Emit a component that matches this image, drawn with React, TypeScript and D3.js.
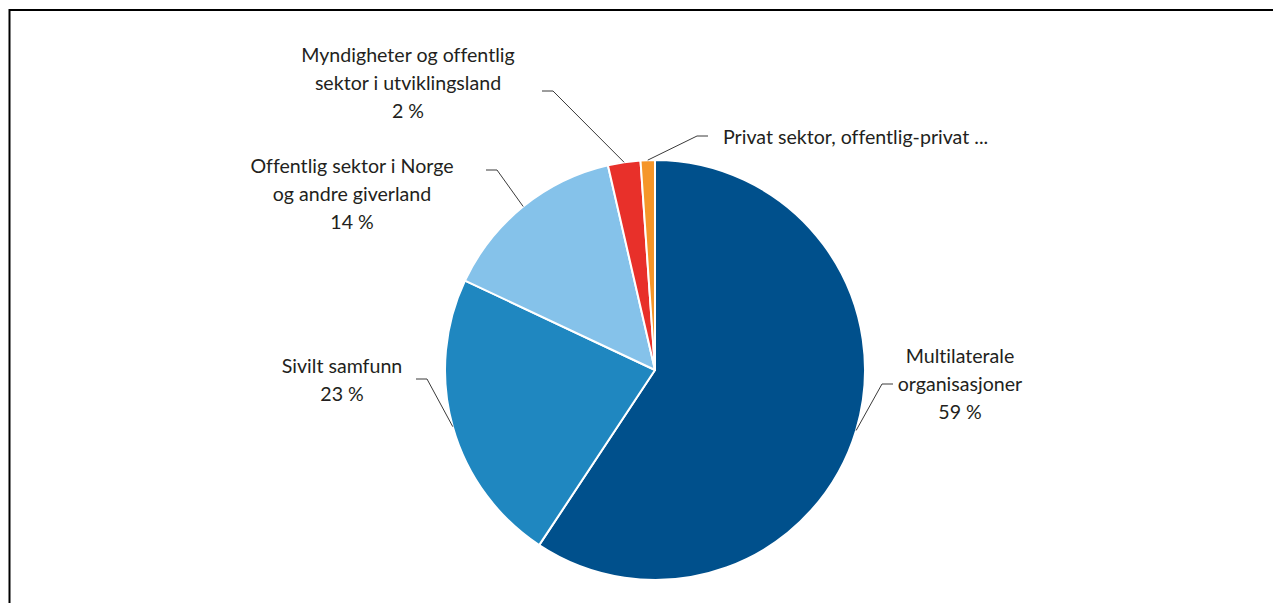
import React from "react";
import * as d3 from "d3";

const categories = [
  "Multilaterale organisasjoner",
  "Sivilt samfunn",
  "Offentlig sektor i Norge og andre giverland",
  "Myndigheter og offentlig sektor i utviklingsland",
  "Privat sektor, offentlig-privat ...",
];
const values = [59.3, 22.7, 14.4, 2.5, 1.1];
const labelLines: string[][] = [
  ["Multilaterale", "organisasjoner", "59 %"],
  ["Sivilt samfunn", "23 %"],
  ["Offentlig sektor i Norge", "og andre giverland", "14 %"],
  ["Myndigheter og offentlig", "sektor i utviklingsland", "2 %"],
  ["Privat sektor, offentlig-privat ..."],
];
const colors = ["#00508c", "#1f87c0", "#85c2ea", "#e8302a", "#f5962a"];

// label layout: elbow point, horizontal tail direction, text anchor
const layout = [
  { ex: 882, ey: 384, dir: 1, tx: 960, ty: 355, anchor: "middle" },
  { ex: 427, ey: 379, dir: -1, tx: 342, ty: 365, anchor: "middle" },
  { ex: 497, ey: 170, dir: -1, tx: 352, ty: 165, anchor: "middle" },
  { ex: 553, ey: 91, dir: -1, tx: 408, ty: 54, anchor: "middle" },
  { ex: 697, ey: 136, dir: 1, tx: 723, ty: 136, anchor: "start" },
];

const W = 1273;
const H = 603;
const cx = 655;
const cy = 370;
const R = 210;
const lineH = 28;

export default function App() {
  const data = categories.map((c, i) => ({ c, v: values[i], i }));
  const pie = d3
    .pie<{ c: string; v: number; i: number }>()
    .sort(null)
    .value((d) => d.v)
    .startAngle(0)
    .endAngle(2 * Math.PI);
  const arcs = pie(data);
  const arc = d3.arc<d3.PieArcDatum<any>>().innerRadius(0).outerRadius(R);

  return (
    <svg
      width={W}
      height={H}
      style={{
        position: "absolute",
        left: 0,
        top: 0,
        background: "#fff",
        fontVariantLigatures: "none",
      }}
      fontFamily="Lato, 'Open Sans', sans-serif"
    >
      <rect x={0} y={0} width={W} height={H} fill="#fff" />
      <line x1={9.5} y1={10} x2={W} y2={10} stroke="#000" strokeWidth={2} />
      <line x1={9.5} y1={9} x2={9.5} y2={H} stroke="#000" strokeWidth={2} />
      <g transform={`translate(${cx},${cy})`}>
        {arcs.map((a, i) => (
          <path
            key={i}
            d={arc(a) || ""}
            fill={colors[i]}
            stroke="#fff"
            strokeWidth={2}
            strokeLinejoin="round"
          />
        ))}
      </g>
      {arcs.map((a, i) => {
        const mid = (a.startAngle + a.endAngle) / 2;
        const px = cx + R * Math.sin(mid);
        const py = cy - R * Math.cos(mid);
        const L = layout[i];
        const tail = L.ex + L.dir * 11;
        return (
          <g key={"l" + i}>
            <polyline
              points={`${px},${py} ${L.ex},${L.ey} ${tail},${L.ey}`}
              fill="none"
              stroke="#3a3a3a"
              strokeWidth={1}
            />
            <text
              x={L.tx}
              y={L.ty}
              textAnchor={L.anchor as any}
              fontSize={19.6}
              fill="#231f20"
              dominantBaseline="central"
              style={{ fontVariantLigatures: "none" }}
            >
              {labelLines[i].map((t, j) => (
                <tspan key={j} x={L.tx} y={L.ty + j * lineH}>
                  {t}
                </tspan>
              ))}
            </text>
          </g>
        );
      })}
    </svg>
  );
}
